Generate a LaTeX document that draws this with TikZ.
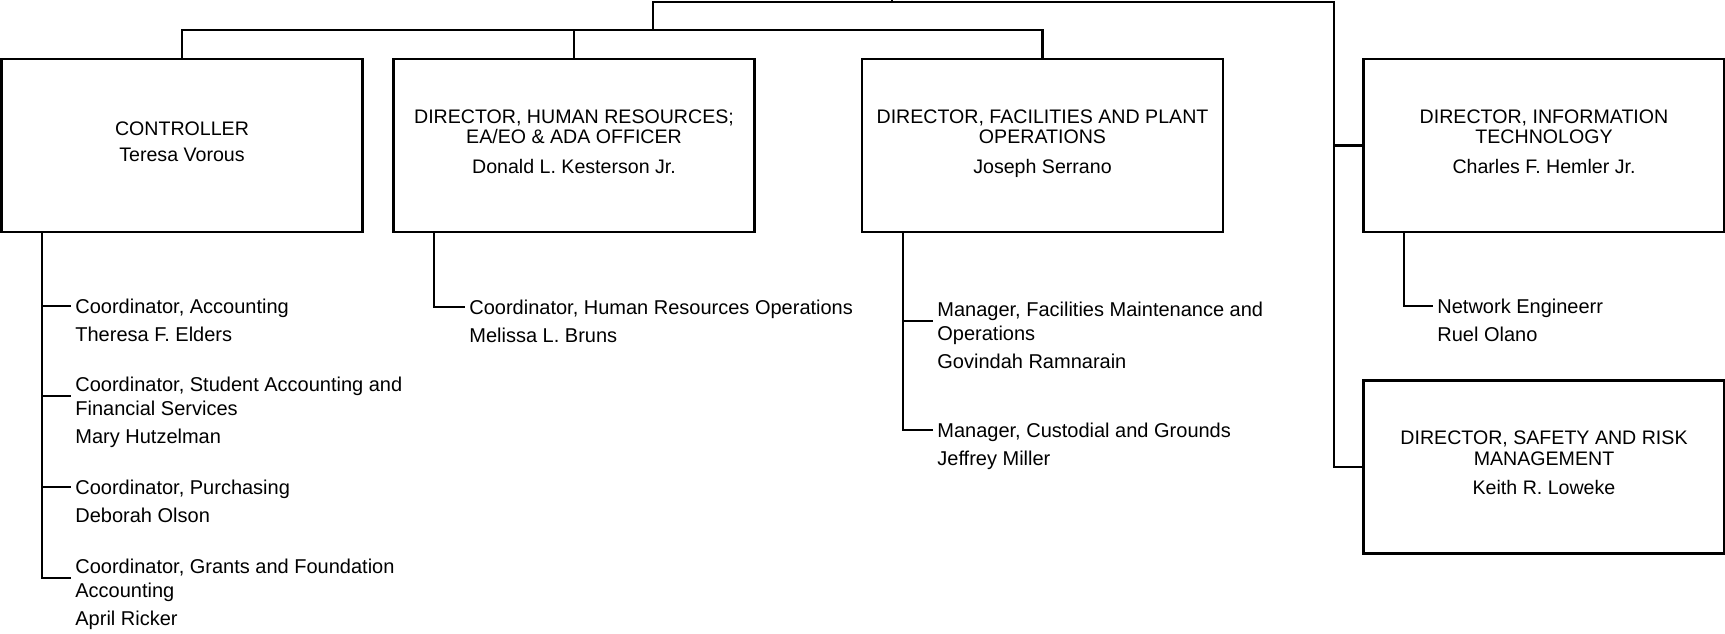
\documentclass[tikz,border=0pt]{standalone}
\usepackage{fontspec}
\setmainfont{Liberation Sans}
\usetikzlibrary{positioning}
\newcommand{\boxfont}{\fontsize{9.8pt}{10.3pt}\selectfont}
\newcommand{\subfont}{\fontsize{10pt}{12pt}\selectfont}

\begin{document}
\begin{tikzpicture}
[x=0.5pt, y=-0.5pt,
officebox/.style={rectangle, draw, line width=1.3pt, minimum width=180.5pt, minimum height=86.5pt, inner sep=0pt, align=center, text depth=4pt, font=\boxfont},
post/.style={anchor=west, align=left, inner xsep=2pt, inner ysep=0pt, text depth=0pt, font=\subfont},
holder/.style={anchor=north west, inner xsep=2pt, inner ysep=0pt, text height=7.5pt, font=\subfont},
link/.style={line width=1.1pt},
]
\useasboundingbox (0,0) rectangle (1725,633);

% directors
\node[officebox] (ctl) at (182,145.5) {CONTROLLER\\[2.5pt]Teresa Vorous};
\node[officebox] (hr) at (574,145.5) {DIRECTOR, HUMAN RESOURCES;\\EA/EO \& ADA OFFICER\\[4.5pt]Donald L. Kesterson Jr.};
\node[officebox] (fac) at (1042.5,145.5) {DIRECTOR, FACILITIES AND PLANT\\OPERATIONS\\[4.5pt]Joseph Serrano};
\node[officebox] (it) at (1544,145.5) {DIRECTOR, INFORMATION\\TECHNOLOGY\\[4.5pt]Charles F. Hemler Jr.};
\node[officebox] (saf) at (1544,467) {DIRECTOR, SAFETY AND RISK\\MANAGEMENT\\[4.5pt]Keith R. Loweke};

% tree above the boxes
\coordinate (root) at (892,0);
\coordinate (top) at (892,2);
\coordinate (mid) at (653,30);
\coordinate (side) at (1334,2);
\draw[link] (root) -- (top);
\draw[link] (top) -| (mid);
\draw[link] (mid) -| (ctl.north);
\draw[link] (mid) -| (hr.north);
\draw[link] (mid) -| (fac.north);
\draw[link] (top) -- (side) |- (saf.west);
\draw[link] (side) |- (it.west);

% controller staff
\node[post] (c1) at (71,306) {Coordinator, Accounting};
\node[below=6pt of c1.south west, holder] (cn1) {Theresa F. Elders};
\node[post] (c2) at (71,396) {Coordinator, Student Accounting and\\Financial Services};
\node[below=6pt of c2.south west, holder] (cn2) {Mary Hutzelman};
\node[post] (c3) at (71,487) {Coordinator, Purchasing};
\node[below=6pt of c3.south west, holder] (cn3) {Deborah Olson};
\node[post] (c4) at (71,578) {Coordinator, Grants and Foundation\\Accounting};
\node[below=6pt of c4.south west, holder] (cn4) {April Ricker};
\coordinate (cs) at ([xshift=21pt]ctl.south west);
\draw[link] (cs) |- (c4.west);
\foreach \i in {1,2,3}
  \draw[link] (cs |- c\i.west) -- (c\i.west);

% human resources staff
\node[post] (h1) at (465,307) {Coordinator, Human Resources Operations};
\node[below=6pt of h1.south west, holder] (hn1) {Melissa L. Bruns};
\coordinate (hs) at ([xshift=21pt]hr.south west);
\draw[link] (hs) |- (h1.west);

% facilities staff
\node[post] (f1) at (933,321) {Manager, Facilities Maintenance and\\Operations};
\node[below=6pt of f1.south west, holder] (fn1) {Govindah Ramnarain};
\node[post] (f2) at (933,430) {Manager, Custodial and Grounds};
\node[below=6pt of f2.south west, holder] (fn2) {Jeffrey Miller};
\coordinate (fs) at ([xshift=21pt]fac.south west);
\draw[link] (fs) |- (f2.west);
\draw[link] (fs |- f1.west) -- (f1.west);

% information technology staff
\node[post] (i1) at (1433,306) {Network Engineerr};
\node[below=6pt of i1.south west, holder] (in1) {Ruel Olano};
\coordinate (is) at ([xshift=21pt]it.south west);
\draw[link] (is) |- (i1.west);
\end{tikzpicture}
\end{document}
